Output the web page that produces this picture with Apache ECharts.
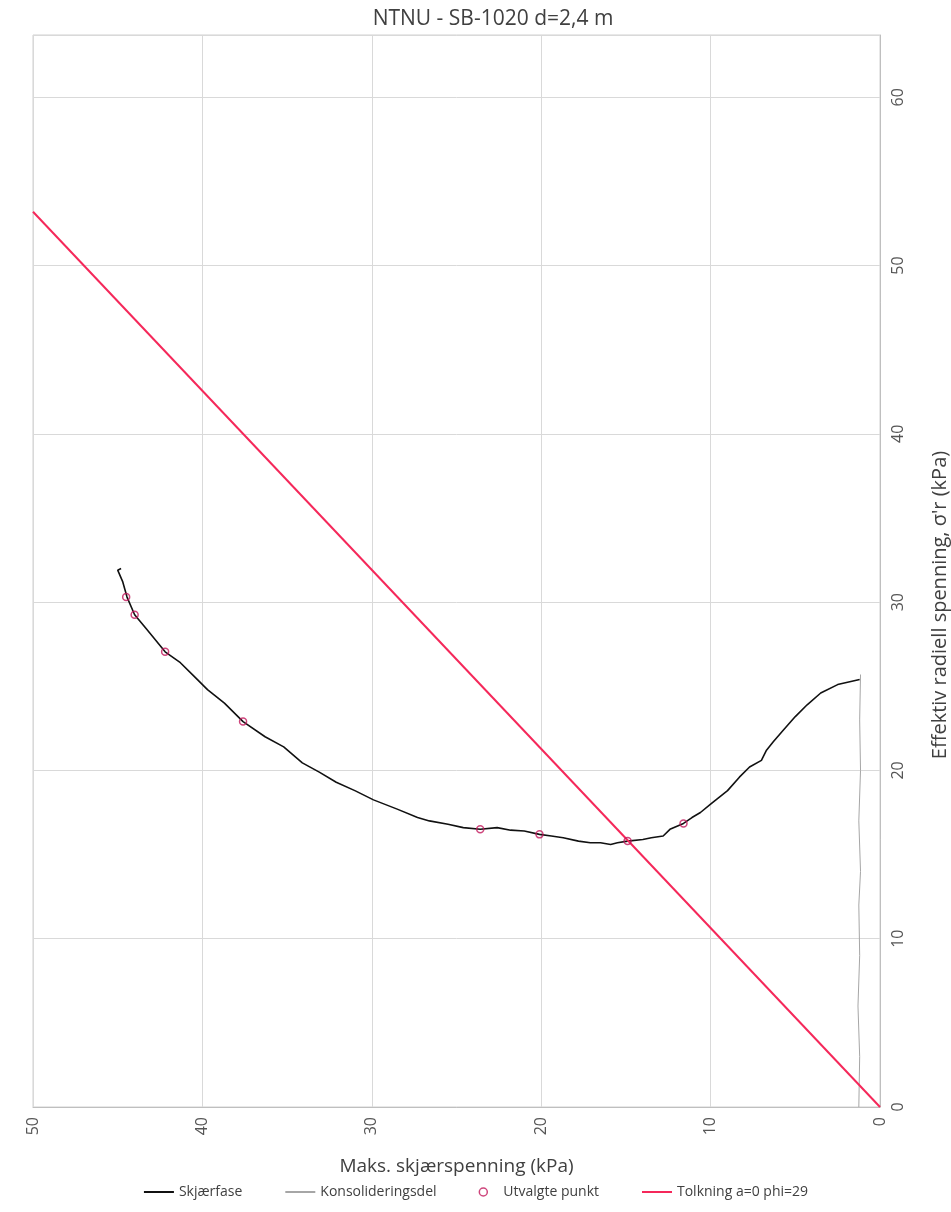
<!DOCTYPE html>
<html lang="no">
<head>
    <meta charset="UTF-8">
    <title>NTNU - SB-1020</title>
    <script src="https://cdn.jsdelivr.net/npm/echarts@6/dist/echarts.min.js"></script>
    <style>
        body { margin: 0; background: #fff; }
    </style>
</head>
<body>
    <div id="main" style="width:951px; height:1212px"></div>
    <script type="text/javascript">
        // data: [skjaerspenning, radiell spenning]
        var skjaerfase = [
            [1.2, 25.4], [2.5, 25.1], [3.5, 24.6], [4.3, 23.9], [5.0, 23.2], [5.7, 22.4],
            [6.3, 21.7], [6.7, 21.2], [7.0, 20.6], [7.7, 20.2], [8.3, 19.6], [9.0, 18.8],
            [9.5, 18.4], [10.0, 18.0], [10.6, 17.5], [11.1, 17.2], [11.6, 16.85], [12.4, 16.5],
            [12.8, 16.1], [13.5, 16.0], [14.0, 15.9], [14.9, 15.8], [15.5, 15.7], [15.9, 15.6],
            [16.5, 15.7], [17.1, 15.7], [17.8, 15.8], [18.7, 16.0], [19.4, 16.1], [20.1, 16.2],
            [21.0, 16.4], [21.8, 16.45], [22.6, 16.6], [23.6, 16.5], [24.6, 16.6], [25.5, 16.8],
            [26.6, 17.0], [27.3, 17.2], [28.5, 17.7], [29.9, 18.25], [31.0, 18.8], [32.1, 19.3],
            [33.1, 19.9], [34.1, 20.45], [35.2, 21.4], [36.3, 22.0], [37.6, 22.9], [38.7, 24.0],
            [39.7, 24.8], [40.5, 25.6], [41.3, 26.4], [42.2, 27.05], [43.3, 28.4], [44.0, 29.25],
            [44.45, 30.3], [44.7, 31.2], [45.0, 31.9], [44.8, 32.0]
        ];
        var konsolidering = [
            [1.25, 0], [1.2, 3], [1.3, 6], [1.2, 9], [1.25, 12], [1.15, 14],
            [1.25, 17], [1.15, 20], [1.2, 23], [1.15, 25.7]
        ];
        var utvalgte = [
            [11.6, 16.85], [14.9, 15.8], [20.1, 16.2], [23.6, 16.5],
            [37.6, 22.9], [42.2, 27.05], [44.0, 29.25], [44.5, 30.3]
        ];
        var tolkning = [[0, 0], [50, 53.2]];
        var xTicks = [0, 10, 20, 30, 40, 50];
        var yTicks = [0, 10, 20, 30, 40, 50, 60];

        var chartDom = document.getElementById('main');
        var myChart = echarts.init(chartDom);
        var font = "'Open Sans', 'Noto Sans', sans-serif";
        var option;

        option = {
            backgroundColor: '#fff',
            textStyle: { fontFamily: font },
            animation: false,
            title: {
                text: 'NTNU - SB-1020 d=2,4 m',
                left: 488,
                textAlign: 'center',
                top: 4,
                textStyle: { fontFamily: font, fontSize: 21, fontWeight: 'normal', color: '#404040' }
            },
            legend: {
                bottom: 8,
                left: 'center',
                itemGap: 42,
                itemWidth: 30,
                itemHeight: 8,
                textStyle: { fontFamily: font, fontSize: 14, color: '#404040' },
                data: [
                    { name: 'Skjærfase', itemStyle: { opacity: 0 } },
                    { name: 'Konsolideringsdel', itemStyle: { opacity: 0 } },
                    { name: 'Utvalgte punkt', icon: 'circle', itemStyle: { color: '#fff', borderColor: '#c2185b', borderWidth: 1.5 } },
                    { name: 'Tolkning a=0 phi=29', itemStyle: { opacity: 0 } }
                ]
            },
            grid: {
                left: 33,
                right: 71,
                top: 35,
                bottom: 105,
                outerBoundsMode: 'none',
                containLabel: false,
                show: true,
                borderColor: '#d0d0d0',
                borderWidth: 1
            },
            xAxis: {
                type: 'value',
                inverse: true,
                min: xTicks[0],
                max: xTicks[xTicks.length - 1],
                interval: 10,
                name: 'Maks. skjærspenning (kPa)',
                nameLocation: 'middle',
                nameGap: 50,
                nameTextStyle: { fontFamily: font, fontSize: 19, color: '#404040' },
                axisLine: { show: true, lineStyle: { color: '#bfbfbf' } },
                axisTick: { show: false },
                axisLabel: { rotate: 90, margin: 10, fontSize: 16, color: '#555' },
                splitLine: { show: true, lineStyle: { color: '#d9d9d9' } }
            },
            yAxis: {
                type: 'value',
                position: 'right',
                min: yTicks[0],
                max: 63.7,
                interval: 10,
                name: "Effektiv radiell spenning, σ'r (kPa)",
                nameLocation: 'middle',
                nameRotate: 90,
                nameGap: 50,
                nameTextStyle: { fontFamily: font, fontSize: 20, color: '#404040', padding: [0, 68, 0, 0] },
                axisLine: { show: true, lineStyle: { color: '#bfbfbf' } },
                axisTick: { show: false },
                axisLabel: { rotate: 90, margin: 10, fontSize: 16, color: '#555', showMaxLabel: false },
                splitLine: { show: true, lineStyle: { color: '#d9d9d9' } }
            },
            series: [
                {
                    name: 'Konsolideringsdel',
                    type: 'line',
                    data: konsolidering,
                    showSymbol: false,
                    symbol: 'none',
                    lineStyle: { color: '#a6a6a6', width: 1 },
                    itemStyle: { color: '#bfbfbf' },
                    z: 2
                },
                {
                    name: 'Skjærfase',
                    type: 'line',
                    data: skjaerfase,
                    showSymbol: false,
                    symbol: 'none',
                    lineStyle: { color: '#111', width: 1.6 },
                    itemStyle: { color: '#111' },
                    z: 3
                },
                {
                    name: 'Tolkning a=0 phi=29',
                    type: 'line',
                    data: tolkning,
                    showSymbol: false,
                    symbol: 'none',
                    lineStyle: { color: '#f5285a', width: 2 },
                    itemStyle: { color: '#f5285a' },
                    z: 4
                },
                {
                    name: 'Utvalgte punkt',
                    type: 'scatter',
                    data: utvalgte,
                    symbol: 'circle',
                    symbolSize: 7,
                    itemStyle: { color: 'rgba(255,255,255,0)', borderColor: '#c2185b', borderWidth: 1.5 },
                    z: 5
                }
            ]
        };

        option && myChart.setOption(option);
    </script>
</body>
</html>
